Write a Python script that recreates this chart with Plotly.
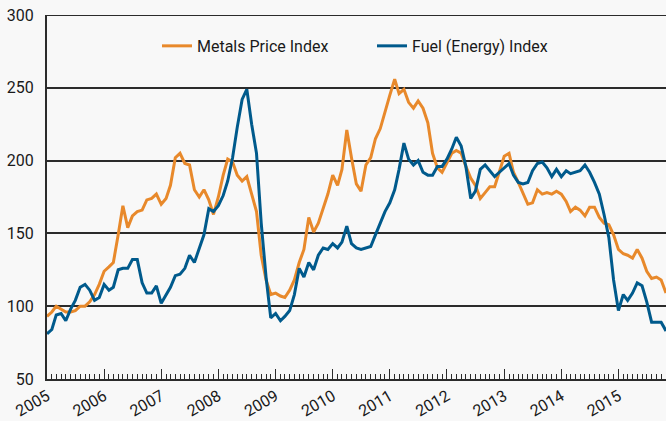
import pandas as pd
import plotly.graph_objects as go

# monthly index values, Jan 2005 .. Nov 2015 (2005 = 100)
metals_index = [
    93, 96, 100, 98, 96, 96, 97, 100, 100, 103, 108, 115,      # 2005
    124, 127, 130, 149, 169, 154, 162, 165, 166, 173, 174, 177,  # 2006
    170, 174, 183, 202, 205, 198, 197, 180, 175, 180, 173, 163,  # 2007
    175, 190, 201, 199, 190, 186, 189, 177, 165, 135, 118, 108,  # 2008
    109, 107, 106, 111, 118, 130, 139, 161, 151, 157, 167, 177,  # 2009
    190, 183, 194, 221, 202, 184, 179, 197, 202, 215, 222, 234,  # 2010
    245, 256, 246, 249, 240, 236, 241, 236, 226, 205, 195, 192,  # 2011
    198, 205, 207, 205, 196, 188, 183, 174, 178, 182, 182, 192,  # 2012
    203, 205, 192, 185, 178, 170, 171, 180, 177, 178, 177, 179,  # 2013
    177, 172, 165, 168, 166, 162, 168, 168, 161, 157, 156, 149,  # 2014
    139, 136, 135, 133, 139, 133, 124, 119, 120, 118, 109,       # 2015
]
fuel_index = [
    81, 84, 94, 95, 90, 98, 104, 113, 115, 111, 104, 106,
    115, 111, 113, 125, 126, 126, 132, 132, 116, 109, 109, 114,
    102, 108, 113, 121, 122, 126, 135, 130, 139, 149, 167, 165,
    169, 176, 186, 202, 223, 242, 249, 225, 205, 157, 120, 92,
    95, 90, 93, 97, 108, 126, 120, 130, 125, 135, 140, 139,
    143, 140, 144, 155, 143, 140, 139, 140, 141, 149, 157, 165,
    171, 180, 194, 212, 201, 197, 200, 192, 190, 190, 196, 196,
    201, 208, 216, 210, 196, 174, 179, 194, 197, 193, 189, 192,
    195, 198, 190, 185, 184, 185, 193, 198, 199, 195, 189, 194,
    189, 193, 191, 192, 193, 197, 192, 185, 177, 163, 147, 118,
    97, 108, 104, 109, 116, 114, 103, 89, 89, 89, 83,
]
months = pd.date_range("2005-01-01", periods=len(metals_index), freq="MS")
y_ticks = [50, 100, 150, 200, 250, 300]

ink = "#2b2b2b"
bg = "#f8f8f8"

fig = go.Figure()
fig.add_trace(go.Scatter(
    x=months, y=metals_index, mode="lines", name="Metals Price Index",
    line=dict(color="#e8892b", width=3),
))
fig.add_trace(go.Scatter(
    x=months, y=fuel_index, mode="lines", name="Fuel (Energy) Index",
    line=dict(color="#005a8c", width=3),
))

# plotly skips the gridline on the top edge of the range, so draw it
fig.add_shape(type="line", xref="paper", x0=0, x1=1, yref="y", y0=300, y1=300,
              line=dict(color=ink, width=2))

fig.update_layout(
    width=666, height=421,
    margin=dict(l=47, r=0, t=15, b=39),
    paper_bgcolor=bg, plot_bgcolor=bg,
    font=dict(family="Roboto", size=16, color="#1a1a1a"),
    legend=dict(
        orientation="h", x=0.525, xanchor="center", y=0.915, yanchor="middle",
        bgcolor="rgba(0,0,0,0)", font=dict(size=16), itemwidth=30,
        entrywidth=170,
    ),
    xaxis=dict(
        type="date",
        range=[months[0], months[-1]],
        dtick="M12", tick0="2005-01-01", tickformat="%Y",
        ticks="inside", ticklen=10, tickwidth=1, tickcolor=ink,
        tickangle=-30,
        minor=dict(dtick="M1", ticks="inside", ticklen=5, tickwidth=1, tickcolor=ink),
        showgrid=False, zeroline=False,
        showline=True, linecolor=ink, linewidth=2,
    ),
    yaxis=dict(
        range=[50, 300], tickvals=y_ticks,
        showgrid=True, gridcolor=ink, gridwidth=2,
        zeroline=False, showline=True, linecolor=ink, linewidth=2,
        ticks="", ticklabelstandoff=8,
    ),
)

fig.write_html("out.html", config={"displayModeBar": False},
               post_script="document.body.style.margin='0';")
